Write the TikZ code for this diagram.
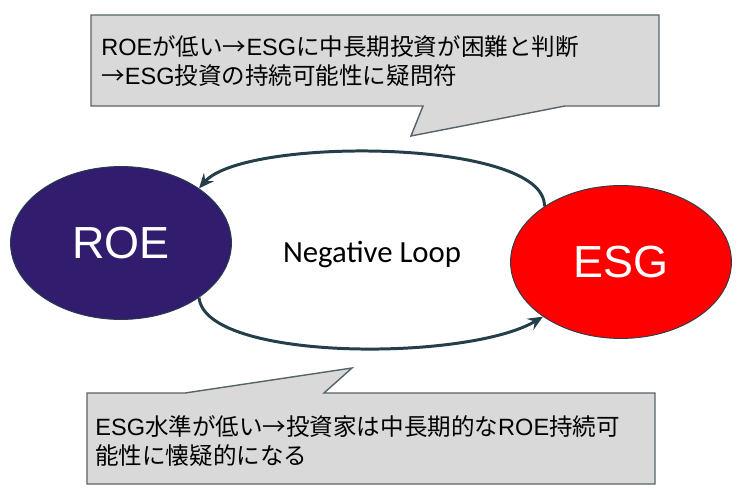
\documentclass[tikz,border=0pt]{standalone}
\usepackage{fontspec}
\setmainfont{Liberation Sans}
\newfontfamily\jpfont{Noto Sans CJK JP}
\newfontfamily\loopfont{Carlito}
\usepackage{xcolor}
\usetikzlibrary{arrows.meta,positioning,shapes.geometric}
\definecolor{roeindigo}{HTML}{311C6E}
\definecolor{esgred}{HTML}{FF0000}
\definecolor{loopslate}{HTML}{243F49}
\definecolor{notegray}{HTML}{D9D9D9}
\definecolor{noteedge}{HTML}{56636B}
\newcommand{\jp}[1]{{\jpfont #1}}

\begin{document}
\begin{tikzpicture}[
  x=0.02cm, y=-0.02cm,
  factor/.style={
    ellipse,
    draw=loopslate,
    line width=0.5pt,
    minimum width=4.42cm,
    minimum height=3.06cm,
    text=white,
    font=\fontsize{25.6}{30}\selectfont
  },
  notebox/.style={
    draw=noteedge,
    fill=notegray,
    line width=0.8pt,
    line join=miter
  },
  notetext/.style={
    anchor=west,
    align=left,
    inner sep=0pt,
    font=\fontsize{13.4}{16}\selectfont
  },
  loop/.style={-{Stealth[length=3mm,width=2.6mm,inset=1.1mm]}, line width=1.7pt, draw=loopslate}
]
\useasboundingbox (0,0) rectangle (748,500);

% callouts
\draw[notebox] (91,15) -- (659,15) -- (659,106) -- (565,106) -- (411,136)
  -- (423,106) -- (91,106) -- cycle;
\draw[notebox] (87,393) -- (185,393) -- (352,368) -- (324,393) -- (655,393)
  -- (655,484) -- (87,484) -- cycle;

\node[notetext] (topnote) at (101,61) {%
  ROE\jp{が低い→}ESG\jp{に中長期投資が困難と判断}\\
  \jp{→}ESG\jp{投資の持続可能性に疑問符}};

\node[notetext] (bottomnote) at (95,441) {%
  ESG\jp{水準が低い→投資家は中長期的な}ROE\jp{持続可}\\
  \jp{能性に懐疑的になる}};

% loop
\node[factor, fill=roeindigo] (roe) at (121,243) {ROE};
\node[factor, fill=esgred] (esg) at (621,262) {ESG};

\node[font=\loopfont\fontsize{17.5}{20}\selectfont] (looplabel) at (372,255) {Negative Loop};

\draw[loop] (esg.144) .. controls +(2,-68) and +(45,-52) .. (roe.35);
\draw[loop] (roe.-35) .. controls +(6,64) and +(-75,45) .. (esg.215);

\end{tikzpicture}
\end{document}
